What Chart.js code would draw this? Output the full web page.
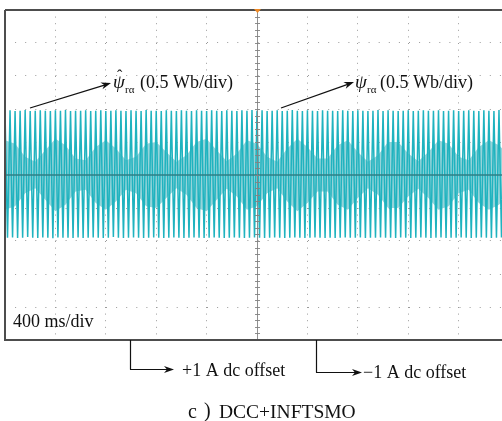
<!DOCTYPE html>
<html>
<head>
<meta charset="utf-8">
<script src="https://cdn.jsdelivr.net/npm/chart.js@4.4.1/dist/chart.umd.min.js"></script>
<style>
  html, body { margin: 0; padding: 0; background: #fff; }
  #wrap { width: 502px; height: 421px; }
</style>
</head>
<body>
<div id="wrap"><canvas id="scope" width="502" height="421"></canvas></div>
<script>
// 示波器参数（单位：格）
const xDivs = [0, 1, 2, 3, 4, 5, 6, 7, 8, 9];
const yDivs = [-5, -4, -3, -2, -1, 0, 1, 2, 3, 4, 5];
const xVisibleMax = 9.86;
const sampleStep = 0.05;      // 每个采样点间隔（半周期）
const envelopeStep = 0.2;

// 磁链波形峰值（0.5 Wb/div）
const fluxPeaks = [
  1.95,-1.90, 1.96,-1.89, 1.94,-1.91, 1.95,-1.90, 1.97,-1.88,
  1.94,-1.90, 1.95,-1.91, 1.96,-1.89, 1.95,-1.90, 1.94,-1.92,
  1.96,-1.89, 1.95,-1.90, 1.97,-1.90, 1.94,-1.91, 1.95,-1.89,
  1.95,-1.91, 1.96,-1.90, 1.94,-1.89, 1.95,-1.90, 1.96,-1.91,
  1.94,-1.90, 1.95,-1.88, 1.96,-1.90, 1.95,-1.91, 1.94,-1.90,
  1.96,-1.89, 1.95,-1.90, 1.94,-1.91, 1.97,-1.90, 1.95,-1.89,
  1.95,-1.90, 1.94,-1.91, 1.96,-1.90, 1.95,-1.89, 1.94,-1.90,
  1.96,-1.91, 1.95,-1.90, 1.94,-1.89, 1.96,-1.90, 1.95,-1.91,
  1.94,-1.90, 1.96,-1.89, 1.95,-1.90, 1.94,-1.91, 1.96,-1.90,
  1.95,-1.89, 1.94,-1.90, 1.96,-1.91, 1.95,-1.90, 1.97,-1.89,
  1.95,-1.90, 1.96,-1.91, 1.94,-1.90, 1.95,-1.89, 1.96,-1.90,
  1.94,-1.91, 1.95,-1.90, 1.97,-1.89, 1.95,-1.90, 1.94,-1.91,
  1.96,-1.90, 1.95,-1.89, 1.94,-1.90, 1.96,-1.91, 1.95,-1.90,
  1.95,-1.91, 1.94,-1.90, 1.96,-1.89, 1.95,-1.90, 1.94,-1.90,
  1.96,-1.89, 1.95,-1.91, 1.94,-1.90, 1.95,-1.90, 1.97,-1.89,
  1.94,-1.90, 1.96,-1.90, 1.95,-1.91, 1.94,-1.89, 1.95,-1.90,
  1.96,-1.91, 1.94,-1.90, 1.95,-1.89, 1.96,-1.90, 1.95,-1.91,
  1.95,-1.90, 1.96,-1.89, 1.94,-1.91, 1.95,-1.90, 1.96,-1.90,
  1.94,-1.89, 1.95,-1.90, 1.96,-1.91, 1.95,-1.90, 1.94,-1.89,
  1.96,-1.90, 1.95,-1.91, 1.94,-1.90, 1.97,-1.89, 1.95,-1.90
];

// 两条曲线叠加形成的浅色包络（半宽，格）
const envelopeHalf = [
  1.05, 0.95, 0.55, 0.40, 0.75, 1.10, 0.90, 0.50, 0.45, 0.85,
  1.05, 0.80, 0.45, 0.55, 0.95, 1.00, 0.70, 0.40, 0.60, 1.00,
  1.10, 0.75, 0.42, 0.65, 1.05, 0.95, 0.55, 0.40, 0.80, 1.10,
  0.85, 0.50, 0.50, 0.90, 1.05, 0.70, 0.40, 0.60, 1.00, 1.00,
  0.65, 0.42, 0.70, 1.05, 0.95, 0.55, 0.45, 0.85, 1.05, 0.90, 0.60
];

const fluxLabel = 'ψ';
const fluxSub = 'rα';
const fluxScale = '(0.5 Wb/div)';
const timeScale = '400 ms/div';
const offsetPlus = '+1 A dc offset';
const offsetMinus = '−1 A dc offset';
const captionHead = 'c';
const captionBracket = ')';
const captionBody = 'DCC+INFTSMO';

const waveColor = '#1fb3bf';
const envColor = 'rgb(150, 212, 218)';
const serif = '"Liberation Serif", "Times New Roman", serif';

const wavePoints = fluxPeaks.map((v, i) => ({ x: i * sampleStep, y: v }));
const envTop = envelopeHalf.map((v, i) => ({ x: i * envelopeStep, y: v }));
const envBottom = envelopeHalf.map((v, i) => ({ x: i * envelopeStep, y: -v }));

// 画箭头
function arrow(ctx, x1, y1, x2, y2) {
    const a = Math.atan2(y2 - y1, x2 - x1);
    ctx.beginPath();
    ctx.moveTo(x1, y1);
    ctx.lineTo(x2 - 6 * Math.cos(a), y2 - 6 * Math.sin(a));
    ctx.stroke();
    ctx.beginPath();
    ctx.moveTo(x2, y2);
    ctx.lineTo(x2 - 10 * Math.cos(a) + 3.5 * Math.sin(a), y2 - 10 * Math.sin(a) - 3.5 * Math.cos(a));
    ctx.lineTo(x2 - 7 * Math.cos(a), y2 - 7 * Math.sin(a));
    ctx.lineTo(x2 - 10 * Math.cos(a) - 3.5 * Math.sin(a), y2 - 10 * Math.sin(a) + 3.5 * Math.cos(a));
    ctx.closePath();
    ctx.fill();
}

// 边框、中心刻度线
const scopeFrame = {
    id: 'scopeFrame',
    afterDatasetsDraw(chart) {
        const { ctx, chartArea: ca, scales: { x, y } } = chart;
        ctx.save();
        const cx = x.getPixelForValue(5);
        ctx.strokeStyle = 'rgba(130,130,130,0.9)';
        ctx.lineWidth = 1;
        ctx.beginPath();
        ctx.moveTo(cx + 0.5, ca.top);
        ctx.lineTo(cx + 0.5, ca.bottom);
        for (let v = -5; v <= 5; v += 0.2) {
            const py = Math.round(y.getPixelForValue(v)) + 0.5;
            ctx.moveTo(cx - 2, py);
            ctx.lineTo(cx + 3, py);
        }
        ctx.stroke();

        ctx.strokeStyle = '#4d4d4d';
        ctx.lineWidth = 2;
        ctx.beginPath();
        ctx.moveTo(ca.left, ca.top);
        ctx.lineTo(ca.right, ca.top);
        ctx.moveTo(ca.left, ca.top);
        ctx.lineTo(ca.left, ca.bottom);
        ctx.lineTo(ca.right, ca.bottom);
        ctx.stroke();

        // 触发标记
        ctx.fillStyle = '#f08a24';
        ctx.beginPath();
        ctx.moveTo(cx - 3, ca.top - 1);
        ctx.lineTo(cx + 4, ca.top - 1);
        ctx.lineTo(cx + 0.5, ca.top + 3);
        ctx.closePath();
        ctx.fill();
        ctx.restore();
    },
    afterDraw(chart) {
        const { ctx } = chart;
        ctx.save();
        ctx.fillStyle = '#111';
        ctx.strokeStyle = '#111';
        ctx.lineWidth = 1.3;
        ctx.textBaseline = 'alphabetic';

        // 估计磁链
        arrow(ctx, 30, 108, 111, 83);
        ctx.font = 'italic 19px ' + serif;
        ctx.fillText(fluxLabel, 113, 88);
        ctx.font = '16px ' + serif;
        ctx.fillText('ˆ', 117, 81);
        ctx.font = '11px ' + serif;
        ctx.fillText(fluxSub, 125, 93);
        ctx.font = '18px ' + serif;
        ctx.fillText(fluxScale, 140, 88);

        // 实际磁链
        arrow(ctx, 281, 108, 354, 82);
        ctx.font = 'italic 19px ' + serif;
        ctx.fillText(fluxLabel, 355, 88);
        ctx.font = '11px ' + serif;
        ctx.fillText(fluxSub, 367, 93);
        ctx.font = '18px ' + serif;
        ctx.fillText(fluxScale, 380, 88);

        ctx.font = '18px ' + serif;
        ctx.fillText(timeScale, 13, 327);

        // 直流偏置标注
        const bottom = chart.chartArea.bottom;
        ctx.lineWidth = 1.2;
        ctx.beginPath();
        ctx.moveTo(130.5, bottom);
        ctx.lineTo(130.5, 369.5);
        ctx.stroke();
        arrow(ctx, 130, 369.5, 174, 369.5);
        ctx.fillText(offsetPlus, 182, 376);

        ctx.beginPath();
        ctx.moveTo(316.5, bottom);
        ctx.lineTo(316.5, 372.5);
        ctx.stroke();
        arrow(ctx, 316, 372.5, 362, 372.5);
        ctx.fillText(offsetMinus, 363, 378);

        // 图题
        ctx.font = '20px ' + serif;
        ctx.fillText(captionHead, 188, 418);
        ctx.fillText(captionBracket, 204, 417);
        ctx.font = '19.5px ' + serif;
        ctx.fillText(captionBody, 219, 418);
        ctx.restore();
    }
};

const ctx = document.getElementById('scope').getContext('2d');
new Chart(ctx, {
    type: 'line',
    data: {
        datasets: [
            {
                data: wavePoints,
                borderColor: waveColor,
                borderWidth: 1.5,
                pointRadius: 0,
                tension: 0,
                order: 1
            },
            {
                data: envTop,
                borderWidth: 0,
                borderColor: 'rgba(0,0,0,0)',
                pointRadius: 0,
                fill: false,
                order: 3
            },
            {
                data: envBottom,
                borderWidth: 0,
                borderColor: 'rgba(0,0,0,0)',
                backgroundColor: envColor,
                pointRadius: 0,
                fill: '-1',
                order: 3
            },
            {
                data: [{ x: 0, y: 0 }, { x: xVisibleMax, y: 0 }],
                borderColor: '#2f7f86',
                borderWidth: 1.5,
                pointRadius: 0,
                order: 0
            }
        ]
    },
    options: {
        responsive: false,
        animation: false,
        events: [],
        layout: { padding: { left: 5, top: 10, right: 0, bottom: 81 } },
        plugins: { legend: { display: false }, tooltip: { enabled: false } },
        scales: {
            x: {
                type: 'linear',
                min: 0,
                max: xVisibleMax,
                afterBuildTicks: s => { s.ticks = xDivs.map(v => ({ value: v })); },
                ticks: { display: false },
                grid: { color: '#9a9a9a', lineWidth: 1, drawTicks: false },
                border: { display: false, dash: [1, 5.6] }
            },
            y: {
                type: 'linear',
                min: -5,
                max: 5,
                afterBuildTicks: s => { s.ticks = yDivs.map(v => ({ value: v })); },
                ticks: { display: false },
                grid: { color: '#9a9a9a', lineWidth: 1, drawTicks: false },
                border: { display: false, dash: [1, 9.1] }
            }
        }
    },
    plugins: [scopeFrame]
});
</script>
</body>
</html>
